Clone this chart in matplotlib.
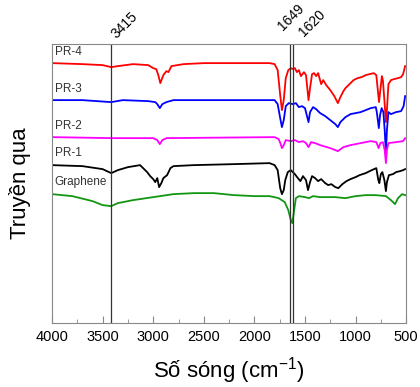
import matplotlib.pyplot as plt
from matplotlib.ticker import MultipleLocator
import matplotlib.transforms as mtransforms

plt.rcParams['font.family'] = ['Liberation Sans', 'DejaVu Sans']
plt.rcParams['mathtext.default'] = 'regular'

# FTIR spectra, transmittance in arbitrary units (curves are stacked)
pr4_wn = [4000, 3700, 3500, 3415, 3350, 3200, 3050, 3000, 2970, 2950, 2930, 2900, 2870, 2850, 2820,
          2700, 2500, 2200, 2000, 1850, 1800, 1770, 1745, 1728, 1710, 1690, 1665, 1640, 1620, 1600,
          1580, 1560, 1540, 1510, 1490, 1465, 1450, 1430, 1410, 1390, 1370, 1340, 1320, 1290, 1250,
          1210, 1175, 1150, 1120, 1100, 1060, 1020, 980, 940, 900, 860, 820, 795, 780, 768, 755,
          740, 730, 715, 700, 690, 675, 650, 620, 580, 550, 530, 510]
pr4_t = [260, 259, 258, 256, 257, 259, 258, 255, 254, 248, 240, 248, 252, 251, 257,
         259, 260, 260, 260, 260, 259, 253, 228, 213, 223, 245, 253, 255, 254, 255,
         251, 253, 247, 251, 248, 223, 235, 249, 250, 247, 250, 239, 243, 238, 233,
         227, 220, 226, 232, 235, 239, 243, 245, 246, 248, 249, 250, 248, 233, 221, 233,
         247, 243, 223, 201, 213, 239, 243, 244, 245, 246, 249, 257]

pr3_wn = [4000, 3700, 3415, 3300, 3050, 2980, 2960, 2935, 2910, 2870, 2800, 2000, 1800, 1770, 1745,
          1728, 1710, 1690, 1660, 1620, 1590, 1560, 1530, 1500, 1465, 1450, 1420, 1390, 1350, 1300,
          1250, 1200, 1175, 1150, 1100, 1050, 1000, 950, 900, 850, 800, 790, 770, 758, 742, 725,
          712, 700, 690, 675, 650, 600, 550, 525, 510]
pr3_t = [223, 223, 221, 223, 222, 221, 219, 215, 219, 221, 223, 223, 223, 219, 205,
         196, 203, 217, 220, 219, 220, 216, 217, 215, 201, 211, 216, 214, 210, 207,
         203, 199, 196, 201, 206, 209, 210, 211, 213, 215, 216, 211, 195, 208, 215, 211,
         193, 170, 193, 211, 209, 211, 212, 217, 227]

pr2_wn = [4000, 3415, 3000, 2960, 2935, 2910, 2870, 1800, 1760, 1740, 1728, 1710, 1690, 1640, 1600,
          1560, 1520, 1490, 1465, 1440, 1400, 1350, 1250, 1175, 1120, 1050, 950, 850, 795, 772,
          755, 730, 712, 700, 690, 675, 600, 530, 510]
pr2_t = [186, 185, 185, 183, 179, 183, 185, 186, 184, 179, 175, 178, 183, 182, 183,
         181, 182, 180, 176, 181, 180, 178, 175, 172, 176, 178, 180, 182, 181, 175,
         180, 181, 173, 160, 173, 180, 181, 182, 185]

pr1_wn = [4000, 3700, 3500, 3415, 3350, 3250, 3130, 3060, 3030, 3000, 2980, 2960, 2942, 2920, 2900,
          2863, 2830, 2800, 2600, 2200, 1850, 1800, 1770, 1745, 1728, 1710, 1695, 1670, 1640, 1600,
          1570, 1545, 1520, 1490, 1470, 1450, 1430, 1400, 1370, 1340, 1300, 1270, 1240, 1200, 1170,
          1130, 1090, 1050, 1000, 960, 900, 840, 795, 775, 765, 750, 735, 715, 700, 690, 670,
          630, 600, 560, 530, 510]
pr1_t = [158, 157, 154, 150, 153, 156, 158, 151, 147, 144, 141, 145, 136, 140, 145,
         148, 155, 157, 158, 159, 160, 158, 153, 135, 129, 133, 143, 151, 153, 149,
         145, 142, 147, 143, 133, 141, 147, 145, 142, 144, 140, 138, 139, 136, 135,
         139, 142, 144, 146, 148, 150, 153, 155, 143, 140, 149, 151, 143, 132, 141, 148,
         149, 151, 152, 153, 154]

gr_wn = [4000, 3800, 3600, 3500, 3415, 3350, 3200, 3000, 2800, 2600, 2400, 2200, 2000, 1850, 1760,
         1700, 1665, 1640, 1625, 1610, 1590, 1560, 1500, 1460, 1420, 1350, 1200, 1100, 1000, 900,
         800, 700, 650, 610, 580, 540, 510]
gr_t = [129, 127, 122, 118, 117, 120, 123, 126, 129, 130, 130, 128, 127, 127, 125,
        121, 113, 103, 100, 111, 125, 127, 126, 125, 127, 126, 126, 125, 127, 128,
        128, 127, 123, 119, 125, 129, 128]

names = ['PR-4', 'PR-3', 'PR-2', 'PR-1', 'Graphene']
name_y = [265, 228, 191, 164, 135]
marks = [3415, 1649, 1620]

fig = plt.figure(figsize=(4.2, 3.87), dpi=100)
ax = fig.add_axes([0.124, 0.165, 0.843, 0.721])

ax.plot(pr4_wn, pr4_t, color='#ff0000', lw=1.3)
ax.plot(pr3_wn, pr3_t, color='#0000ff', lw=1.3)
ax.plot(pr2_wn, pr2_t, color='#ff00ff', lw=1.3)
ax.plot(pr1_wn, pr1_t, color='black', lw=1.3)
ax.plot(gr_wn, gr_t, color='#129612', lw=1.3)

for n, y in zip(names, name_y):
    ax.text(3975, y, n, fontsize=8.5, color='#333333', ha='left', va='bottom')

for m in marks:
    ax.axvline(m, color='#333333', lw=0.9)

# rotated peak labels above the frame
trans = mtransforms.blended_transform_factory(ax.transData, ax.transAxes)
ax.text(3445, 1.012, '3415', transform=trans, rotation=45, fontsize=10, ha='left', va='bottom')
ax.text(1790, 1.038, '1649', transform=trans, rotation=45, fontsize=10, ha='left', va='bottom')
ax.text(1590, 1.018, '1620', transform=trans, rotation=45, fontsize=10, ha='left', va='bottom')

ax.set_xlim(4000, 500)
ax.set_ylim(0, 279)
ax.xaxis.set_major_locator(MultipleLocator(500))
ax.xaxis.set_minor_locator(MultipleLocator(250))
ax.tick_params(axis='x', which='both', direction='in', colors='#888888', labelcolor='black',
               labelsize=10.5, pad=5)
ax.tick_params(axis='x', which='major', length=5)
ax.tick_params(axis='x', which='minor', length=3)
ax.set_yticks([])
for s in ax.spines.values():
    s.set_color('#888888')

ax.set_xlabel('Số sóng (cm$^{-1}$)', fontsize=16)
ax.set_ylabel('Truyền qua', fontsize=16)
ax.xaxis.set_label_coords(0.5, -0.115)
ax.yaxis.set_label_coords(-0.06, 0.5)

fig.savefig('out.png', dpi=100)
